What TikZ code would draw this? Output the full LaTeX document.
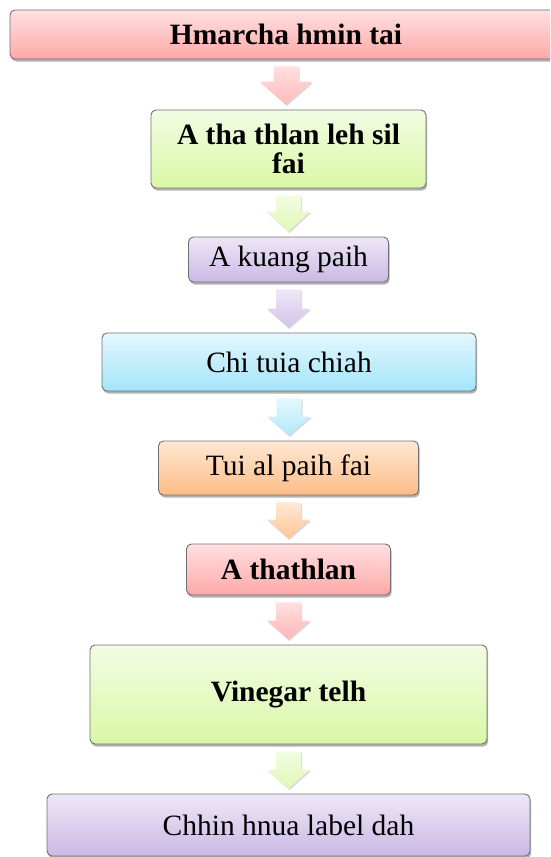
\documentclass[tikz,border=0pt]{standalone}
\usepackage{fontspec}
\setmainfont{Liberation Serif}
\usetikzlibrary{shadows,calc}
\definecolor{pinkT}{HTML}{FFE0E0}
\definecolor{pinkB}{HTML}{FFA8A8}
\definecolor{greenT}{HTML}{F2FCE4}
\definecolor{greenB}{HTML}{DAF8A6}
\definecolor{purpleT}{HTML}{EEE7F7}
\definecolor{purpleB}{HTML}{CBB8E5}
\definecolor{blueT}{HTML}{E4F7FD}
\definecolor{blueB}{HTML}{A4E4FA}
\definecolor{orangeT}{HTML}{FFE8D4}
\definecolor{orangeB}{HTML}{FDBC86}
\definecolor{boxline}{HTML}{707070}
\tikzset{
  flowbox/.style={rectangle, rounded corners=5pt, draw=boxline, line width=0.9pt,
    align=center, inner sep=0pt, text=black,
    font=\fontsize{29.5}{29.5}\selectfont,
    drop shadow={shadow xshift=1.2pt, shadow yshift=-2.5pt, opacity=0.3, fill=black}},
  blockarrow/.style={draw=none,
    drop shadow={shadow xshift=1pt, shadow yshift=-1.5pt, opacity=0.15, fill=black}},
}
% #1 from node, #2 to node, #3 top colour, #4 bottom colour, #5 shaft half width, #6 head half width, #7 head length
\newcommand{\blockarr}[7]{%
  \path (#1.south) ++(0,7) coordinate (#1-at);
  \path (#1.south |- #2.north) ++(0,-5) coordinate (#1-tip);
  \path[blockarrow, top color=#3, bottom color=#4]
    ($(#1-at)+(-#5,0)$) -- ($(#1-tip)+(-#5,-#7)$) -- ($(#1-tip)+(-#6,-#7)$)
    -- (#1-tip) -- ($(#1-tip)+(#6,-#7)$) -- ($(#1-tip)+(#5,-#7)$)
    -- ($(#1-at)+(#5,0)$) -- cycle;
}
\begin{document}
\begin{tikzpicture}[x=1pt, y=-1pt]
\useasboundingbox (0,0) rectangle (550,857);
\clip (0,0) rectangle (550,857);

\node[flowbox, minimum width=552pt, minimum height=49pt, top color=pinkT, bottom color=pinkB]
  (b1) at (286,34.5) {\textbf{Hmarcha hmin tai}};
\node[flowbox, minimum width=275pt, minimum height=78pt, top color=greenT, bottom color=greenB]
  (b2) at (288.5,149) {\textbf{A tha thlan leh sil}\\\textbf{fai}};
\node[flowbox, minimum width=200pt, minimum height=45pt, top color=purpleT, bottom color=purpleB]
  (b3) at (288.5,259.5) {A kuang paih};
\node[flowbox, minimum width=374pt, minimum height=58pt, top color=blueT, bottom color=blueB]
  (b4) at (289,362) {Chi tuia chiah};
\node[flowbox, minimum width=260pt, minimum height=54pt, top color=orangeT, bottom color=orangeB]
  (b5) at (288.5,468) {Tui al paih fai};
\node[flowbox, minimum width=204pt, minimum height=51pt, top color=pinkT, bottom color=pinkB]
  (b6) at (288.5,569.5) {\textbf{A thathlan}};
\node[flowbox, minimum width=397pt, minimum height=99pt, top color=greenT, bottom color=greenB]
  (b7) at (288.5,694.5) {\textbf{Vinegar telh}};
\node[flowbox, minimum width=483pt, minimum height=62pt, top color=purpleT, bottom color=purpleB]
  (b8) at (288.5,825) {Chhin hnua label dah};

\blockarr{b1}{b2}{pinkT}{pinkB!80!white}{12.5}{26}{23}
\blockarr{b2}{b3}{greenT}{greenB!85!white}{12.5}{21.5}{20}
\blockarr{b3}{b4}{purpleT}{purpleB!85!white}{12.5}{21.5}{19}
\blockarr{b4}{b5}{blueT}{blueB!85!white}{12.5}{21.5}{19}
\blockarr{b5}{b6}{orangeT}{orangeB!85!white}{12.5}{21.5}{19}
\blockarr{b6}{b7}{pinkT}{pinkB!85!white}{12.5}{21.5}{19}
\blockarr{b7}{b8}{greenT}{greenB!85!white}{12.5}{21.5}{19}
\end{tikzpicture}
\end{document}
